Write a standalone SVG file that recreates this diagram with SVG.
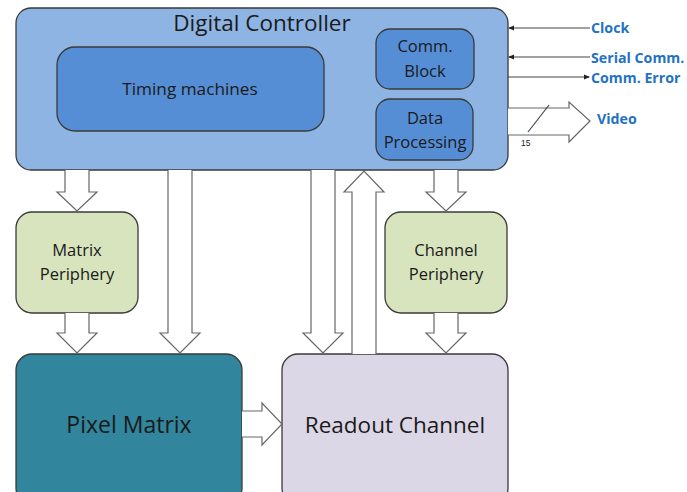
<svg xmlns="http://www.w3.org/2000/svg" width="687" height="492" viewBox="0 0 687 492">
<style>
.box{stroke:#3a3a3a;stroke-width:1.3}
.t{font-family:"Open Sans","Liberation Sans",sans-serif;fill:#1a1a1a;text-anchor:middle}
.lbl{font-family:"Open Sans","Liberation Sans",sans-serif;fill:#2272C4;font-weight:bold;font-size:14.2px}
.ba{fill:#fff;stroke:#666;stroke-width:1.2;stroke-linejoin:miter}
.ln{stroke:#444;stroke-width:1.2;fill:none}
</style>
<defs>
<marker id="ah" markerWidth="6" markerHeight="6" refX="5" refY="3" orient="auto" markerUnits="userSpaceOnUse">
<path d="M0,0.5 L6,3 L0,5.5 Z" fill="#222"/>
</marker>
</defs>
<rect width="687" height="492" fill="#fff"/>
<g id="digital-controller">
<rect class="box" x="16" y="8" width="492" height="162" rx="15" fill="#8EB4E3"/>
<text class="t" x="262" y="31" font-size="22.5">Digital Controller</text>
</g>
<g id="timing-machines">
<rect class="box" x="57" y="47" width="267" height="84" rx="18" fill="#558ED5"/>
<text class="t" x="190" y="95" font-size="17.2">Timing machines</text>
</g>
<g id="comm-block">
<rect class="box" x="376" y="29" width="98" height="60" rx="14" fill="#558ED5"/>
<text class="t" x="425" y="52" font-size="16.5">Comm.</text>
<text class="t" x="425" y="77" font-size="16.5">Block</text>
</g>
<g id="data-processing">
<rect class="box" x="376" y="99" width="97" height="61" rx="14" fill="#558ED5"/>
<text class="t" x="425" y="124" font-size="16.5">Data</text>
<text class="t" x="425" y="148" font-size="16.5">Processing</text>
</g>
<g id="matrix-periphery">
<rect class="box" x="16" y="212" width="122" height="101" rx="16" fill="#D7E4BD"/>
<text class="t" x="77" y="256" font-size="16.5">Matrix</text>
<text class="t" x="77" y="280" font-size="16.5">Periphery</text>
</g>
<g id="channel-periphery">
<rect class="box" x="385" y="212" width="122" height="101" rx="16" fill="#D7E4BD"/>
<text class="t" x="446" y="256" font-size="16.5">Channel</text>
<text class="t" x="446" y="280" font-size="16.5">Periphery</text>
</g>
<g id="pixel-matrix">
<rect class="box" x="16" y="354" width="226" height="150" rx="16" fill="#31859C"/>
<text class="t" x="129" y="433" font-size="23">Pixel Matrix</text>
</g>
<g id="readout-channel">
<rect class="box" x="282" y="354" width="226" height="150" rx="16" fill="#DCD7E6"/>
<text class="t" x="395" y="433" font-size="22.5">Readout Channel</text>
</g>
<g id="connectors">
<path class="ba" d="M65,170 V192 H57 L77,211 L97,192 H89 V170"/>
<path class="ba" d="M65,313 V333 H57 L77,353 L97,333 H89 V313"/>
<path class="ba" d="M168,170 V333 H160 L180,353 L200,333 H192 V170"/>
<path class="ba" d="M311,170 V333 H303 L323,353 L343,333 H335 V170"/>
<path class="ba" d="M352,354 V192 H344 L364,171 L384,192 H376 V354"/>
<path class="ba" d="M434,170 V192 H426 L446,211 L466,192 H458 V170"/>
<path class="ba" d="M434,313 V333 H426 L446,353 L466,333 H458 V313"/>
<path class="ba" d="M242,411 H262 V403 L282,424 L262,445 V437 H242"/>
<path class="ba" d="M508,108 H569 V102 L590,121 L569,142 V135 H508"/>
<line class="ln" x1="528" y1="132" x2="549" y2="105"/>
<text x="521" y="146" font-family="'Liberation Sans',sans-serif" font-size="8.5" fill="#222">15</text>
<line class="ln" x1="590" y1="28" x2="509" y2="28" marker-end="url(#ah)"/>
<line class="ln" x1="590" y1="57" x2="509" y2="57" marker-end="url(#ah)"/>
<line class="ln" x1="508" y1="77" x2="589" y2="77" marker-end="url(#ah)"/>
</g>
<text class="lbl" x="591" y="33">Clock</text>
<text class="lbl" x="591" y="63">Serial Comm.</text>
<text class="lbl" x="591" y="83">Comm. Error</text>
<text class="lbl" x="597" y="124">Video</text>
</svg>
